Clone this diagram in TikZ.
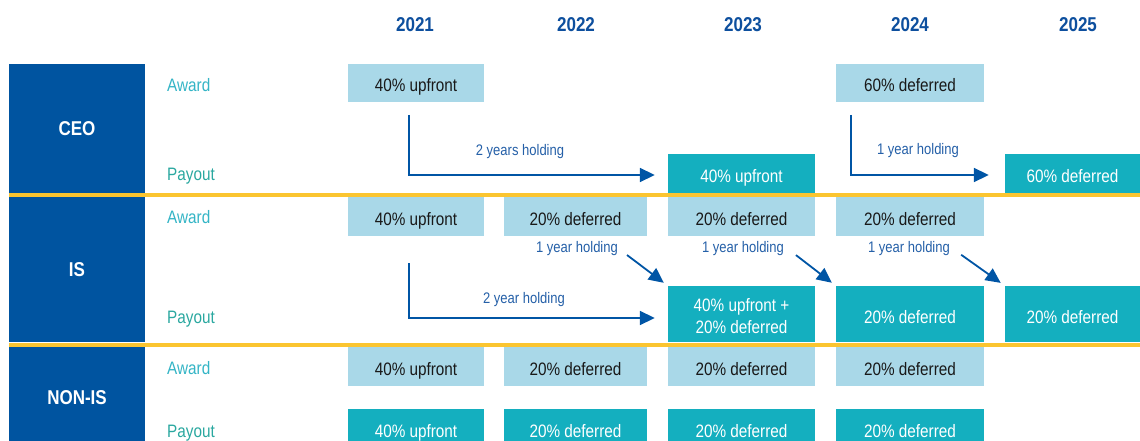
\documentclass[tikz,border=0pt]{standalone}
\usepackage{fontspec}
\setmainfont{Liberation Sans}[FakeStretch=0.85]
\usetikzlibrary{arrows.meta}
\definecolor{navy}{HTML}{0054A0}
\definecolor{awardbg}{HTML}{A9D8E8}
\definecolor{payoutbg}{HTML}{14AFBF}
\definecolor{sep}{HTML}{FBC530}
\definecolor{yeartxt}{HTML}{0D4F9E}
\definecolor{awardlbl}{HTML}{34B5C6}
\definecolor{payoutlbl}{HTML}{2AA8A0}
\definecolor{holdtxt}{HTML}{2560A8}
\definecolor{arrowc}{HTML}{0055A5}
\begin{document}
\begin{tikzpicture}[x=1pt,y=-1pt,
  groupbox/.style={fill=navy,text=white,inner sep=0pt,minimum width=136pt,font=\fontsize{20}{22}\selectfont\bfseries},
  boxcore/.style={inner sep=0pt,font=\fontsize{18}{22}\selectfont},
  awardbox/.style={boxcore,fill=awardbg,text=black!90,minimum height=39pt,text height=18pt,text depth=0pt},
  payoutbox/.style={boxcore,fill=payoutbg,text=white,minimum height=39pt,text height=18pt,text depth=0pt},
  twoline/.style={boxcore,fill=payoutbg,text=white,align=center,text height=39pt,text depth=0pt},
  yearlbl/.style={text=yeartxt,font=\fontsize{20}{22}\selectfont\bfseries},
  awlbl/.style={anchor=west,text=awardlbl,inner sep=0pt,text height=12.5pt,text depth=0pt,font=\fontsize{18}{20}\selectfont},
  polbl/.style={anchor=west,text=payoutlbl,inner sep=0pt,text height=12.5pt,text depth=0pt,font=\fontsize{18}{20}\selectfont},
  holdlbl/.style={text=holdtxt,inner sep=1pt,font=\fontsize{15.3}{17}\selectfont},
  arr/.style={draw=arrowc,line width=1.8pt,-{Triangle[length=15pt,width=14pt]}},
  sepline/.style={draw=sep,line width=4pt},
  cA/.style={minimum width=136pt},
  cB/.style={minimum width=143pt},
  cC/.style={minimum width=147pt},
  cD/.style={minimum width=148pt},
  cE/.style={minimum width=135pt}]
\clip (0,0) rectangle (1140,441);
\fill[white] (0,0) rectangle (1140,441);

% year headers
\node[yearlbl] (y1) at (415,25) {2021};
\node[yearlbl] (y2) at (576,25) {2022};
\node[yearlbl] (y3) at (743,25) {2023};
\node[yearlbl] (y4) at (910,25) {2024};
\node[yearlbl] (y5) at (1078,25) {2025};

% group boxes
\node[groupbox,minimum height=129pt] (gCEO) at (77,128.5) {CEO};
\node[groupbox,minimum height=145pt] (gIS) at (77,269.5) {IS};
\node[groupbox,minimum height=102pt] (gNON) at (77,398) {NON-IS};

% row labels
\node[awlbl] (lA1) at (167,85.5) {Award};
\node[polbl] (lP1) at (167,174.5) {Payout};
\node[awlbl] (lA2) at (167,217) {Award};
\node[polbl] (lP2) at (167,317) {Payout};
\node[awlbl] (lA3) at (167,368) {Award};
\node[polbl] (lP3) at (167,431) {Payout};

% CEO
\node[awardbox,cA,minimum height=38pt] (ceoA1) at (416,83) {40\% upfront};
\node[awardbox,cD,minimum height=38pt] (ceoA4) at (910,83) {60\% deferred};
\node[payoutbox,cC] (ceoP3) at (741.5,173.5) {40\% upfront};
\node[payoutbox,cE] (ceoP5) at (1072.5,173.5) {60\% deferred};

% IS
\node[awardbox,cA] (isA1) at (416,216.5) {40\% upfront};
\node[awardbox,cB] (isA2) at (575.5,216.5) {20\% deferred};
\node[awardbox,cC] (isA3) at (741.5,216.5) {20\% deferred};
\node[awardbox,cD] (isA4) at (910,216.5) {20\% deferred};
\node[twoline,cC,minimum height=56pt] (isP3) at (741.5,314) {40\% upfront +\\20\% deferred};
\node[payoutbox,cD,minimum height=56pt] (isP4) at (910,314) {20\% deferred};
\node[payoutbox,cE,minimum height=56pt] (isP5) at (1072.5,314) {20\% deferred};

% NON-IS
\node[awardbox,cA] (nA1) at (416,366.5) {40\% upfront};
\node[awardbox,cB] (nA2) at (575.5,366.5) {20\% deferred};
\node[awardbox,cC] (nA3) at (741.5,366.5) {20\% deferred};
\node[awardbox,cD] (nA4) at (910,366.5) {20\% deferred};
\node[payoutbox,cA] (nP1) at (416,428.5) {40\% upfront};
\node[payoutbox,cB] (nP2) at (575.5,428.5) {20\% deferred};
\node[payoutbox,cC] (nP3) at (741.5,428.5) {20\% deferred};
\node[payoutbox,cD] (nP4) at (910,428.5) {20\% deferred};

% separators
\coordinate (sL1) at (9,195);
\coordinate (sR1) at (1140,195);
\coordinate (sL2) at (9,344.5);
\coordinate (sR2) at (1140,344.5);
\draw[sepline] (sL1) -- (sR1);
\draw[sepline] (sL2) -- (sR2);

% CEO arrows
\coordinate (c1s) at (409,115);
\coordinate (c2s) at (851,115);
\draw[arr,shorten >=13pt] (c1s) |- ([yshift=-1.5pt]ceoP3.west);
\draw[arr,shorten >=16pt] (c2s) |- ([yshift=-1.5pt]ceoP5.west);
\node[holdlbl] (h1) at (520,152) {2 years holding};
\node[holdlbl] (h2) at (918,151) {1 year holding};

% IS arrows
\coordinate (i1s) at (409,263);
\draw[arr,shorten >=13pt] (i1s) |- ([yshift=-4pt]isP3.west);
\node[holdlbl] (h3) at (524,300) {2 year holding};
\node[holdlbl] (h4) at (577,249) {1 year holding};
\node[holdlbl] (h5) at (743,249) {1 year holding};
\node[holdlbl] (h6) at (909,249) {1 year holding};
\draw[arr,shorten <=10pt,shorten >=5pt] (h4.east) -- (isP3.north west);
\draw[arr,shorten <=10pt,shorten >=5pt] ([xshift=3pt]h5.east) -- (isP4.north west);
\draw[arr,shorten <=10pt,shorten >=5pt] ([xshift=2pt]h6.east) -- (isP5.north west);
\end{tikzpicture}
\end{document}
